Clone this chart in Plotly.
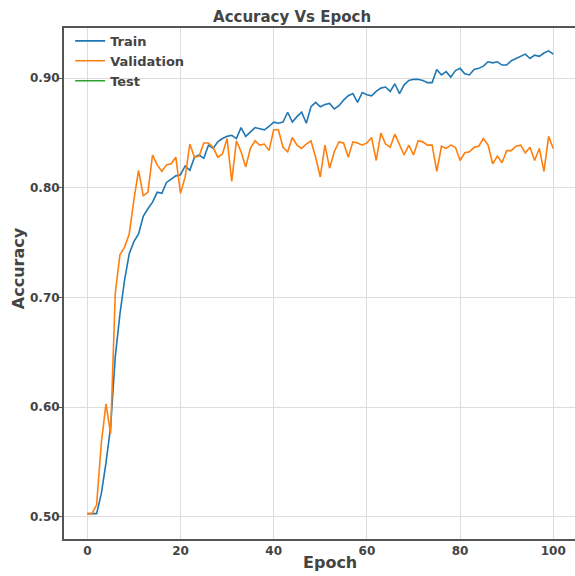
import plotly.graph_objects as go

epochs = list(range(0, 101))

train_acc = [
    0.503, 0.503, 0.503, 0.521, 0.549, 0.582, 0.646, 0.685, 0.716, 0.740,
    0.751, 0.758, 0.774, 0.781, 0.787, 0.796, 0.795, 0.805, 0.808, 0.811,
    0.812, 0.820, 0.816, 0.828, 0.830, 0.827, 0.839, 0.836, 0.842, 0.845,
    0.847, 0.848, 0.845, 0.855, 0.847, 0.851, 0.855, 0.854, 0.853, 0.856,
    0.860, 0.859, 0.860, 0.869, 0.860, 0.865, 0.869, 0.859, 0.874, 0.878,
    0.874, 0.876, 0.877, 0.872, 0.875, 0.880, 0.884, 0.886, 0.878, 0.887,
    0.885, 0.884, 0.888, 0.891, 0.892, 0.888, 0.895, 0.886, 0.894, 0.898,
    0.899, 0.899, 0.898, 0.896, 0.896, 0.908, 0.903, 0.906, 0.901, 0.907,
    0.909, 0.904, 0.903, 0.908, 0.909, 0.911, 0.915, 0.914, 0.915, 0.912,
    0.912, 0.916, 0.918, 0.920, 0.922, 0.918, 0.921, 0.920, 0.923, 0.925,
    0.922,
]

val_acc = [
    0.503, 0.503, 0.511, 0.567, 0.603, 0.576, 0.704, 0.739, 0.746, 0.758,
    0.789, 0.816, 0.793, 0.796, 0.830, 0.821, 0.815, 0.821, 0.822, 0.828,
    0.795, 0.810, 0.840, 0.828, 0.829, 0.841, 0.841, 0.837, 0.828, 0.831,
    0.845, 0.806, 0.843, 0.833, 0.819, 0.836, 0.843, 0.839, 0.840, 0.834,
    0.853, 0.853, 0.837, 0.833, 0.846, 0.839, 0.836, 0.840, 0.843, 0.828,
    0.810, 0.839, 0.818, 0.833, 0.842, 0.841, 0.828, 0.842, 0.841, 0.839,
    0.841, 0.846, 0.825, 0.850, 0.840, 0.837, 0.849, 0.840, 0.830, 0.839,
    0.830, 0.843, 0.842, 0.839, 0.839, 0.815, 0.838, 0.836, 0.839, 0.837,
    0.825, 0.832, 0.833, 0.837, 0.838, 0.845, 0.839, 0.822, 0.829, 0.823,
    0.834, 0.834, 0.838, 0.839, 0.832, 0.837, 0.825, 0.836, 0.815, 0.847,
    0.836,
]

test_acc = [None]

x_ticks = [0, 20, 40, 60, 80, 100]
y_ticks = [0.50, 0.60, 0.70, 0.80, 0.90]
y_tick_labels = ["0.50", "0.60", "0.70", "0.80", "0.90"]

FONT = "DejaVu Sans"
TXT = "#444444"

fig = go.Figure()
fig.add_trace(go.Scatter(x=epochs, y=train_acc, mode="lines", name="<b>Train</b>",
                         line=dict(color="#1f77b4", width=1.6)))
fig.add_trace(go.Scatter(x=epochs, y=val_acc, mode="lines", name="<b>Validation</b>",
                         line=dict(color="#ff7f0e", width=1.6)))
fig.add_trace(go.Scatter(x=[None], y=test_acc, mode="lines", name="<b>Test</b>",
                         line=dict(color="#2ca02c", width=1.6)))

fig.update_layout(
    width=575, height=576,
    margin=dict(l=64, r=0, t=28, b=37, autoexpand=False),
    paper_bgcolor="white", plot_bgcolor="white",
    font=dict(family=FONT, color=TXT),
    title=dict(text="<b>Accuracy Vs Epoch</b>", x=0.508, xref="container",
               y=1 - 17 / 576, yref="container", xanchor="center", yanchor="middle",
               font=dict(size=15, color=TXT, family=FONT)),
    legend=dict(x=0.012, y=1.004, xanchor="left", yanchor="top",
                bgcolor="rgba(0,0,0,0)", font=dict(size=13, color=TXT, family=FONT),
                tracegroupgap=0),
    showlegend=True,
    annotations=[
        dict(text="<b>Accuracy</b>", xref="paper", yref="paper",
             x=(18 - 64) / 511, y=(538.7 - 268) / 510.7, textangle=-90,
             xanchor="center", yanchor="middle", showarrow=False,
             font=dict(size=16, color=TXT, family=FONT)),
        dict(text="<b>Epoch</b>", xref="paper", yref="paper",
             x=(330 - 64) / 511, y=(538.7 - 562) / 510.7,
             xanchor="center", yanchor="middle", showarrow=False,
             font=dict(size=16, color=TXT, family=FONT)),
    ],
)

fig.update_xaxes(
    range=[-5, 104.66], tickvals=x_ticks, ticktext=[f"<b>{t}</b>" for t in x_ticks],
    tickfont=dict(size=12, color=TXT, family=FONT),
    showgrid=True, gridcolor="#dddddd", gridwidth=1,
    showline=True, linecolor="#555555", linewidth=2, mirror=True,
    ticks="", zeroline=False, automargin=False,
)
fig.update_yaxes(
    range=[0.4799, 0.9458], tickvals=y_ticks, ticktext=[f"<b>{t}</b>" for t in y_tick_labels],
    tickfont=dict(size=12, color=TXT, family=FONT),
    showgrid=True, gridcolor="#dddddd", gridwidth=1,
    showline=True, linecolor="#555555", linewidth=2, mirror=False,
    ticks="outside", ticklen=4, tickcolor="#555555", zeroline=False, automargin=False,
    ticklabelstandoff=-4,
)

fig.write_html("out.html", config={"displayModeBar": False},
               post_script="document.body.style.margin='0px';document.body.style.padding='0px';")
